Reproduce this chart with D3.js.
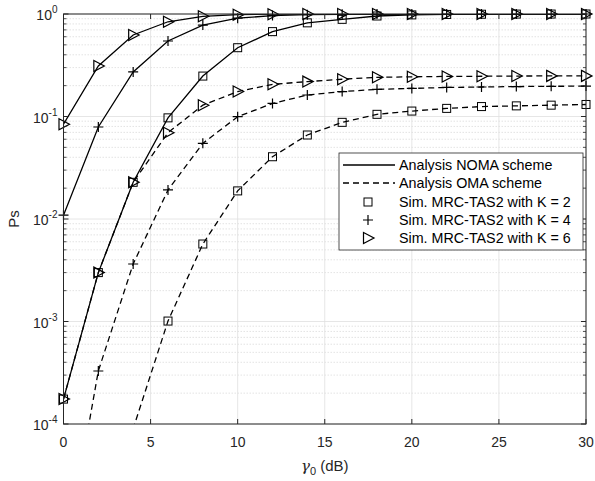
<!DOCTYPE html>
<html>
<head>
<meta charset="utf-8">
<script src="https://cdn.jsdelivr.net/npm/d3@7"></script>
<style>
body{margin:0;background:#fff;}
svg text{font-family:"Liberation Sans",Arial,sans-serif;fill:#262626;}
</style>
</head>
<body>
<div id="chart"></div>
<script>
// SNR (dB) points
var snr = [0,2,4,6,8,10,12,14,16,18,20,22,24,26,28,30];
// NOMA analysis
var nomaK2 = [1.75e-4,3.0e-3,0.0228,0.097,0.248,0.469,0.673,0.82,0.887,0.956,0.98,0.99,0.995,0.998,0.999,1.0];
var nomaK4 = [0.0109,0.079,0.272,0.545,0.78,0.91,0.965,0.985,0.994,0.998,0.999,1,1,1,1,1];
var nomaK6 = [0.084,0.311,0.624,0.84,0.95,0.985,0.995,0.998,1,1,1,1,1,1,1,1];
// OMA analysis
var omaK2 = [2e-7,6e-6,9e-5,1.01e-3,5.7e-3,0.0188,0.0405,0.066,0.0877,0.105,0.113,0.120,0.125,0.127,0.129,0.131];
var omaK4 = [4e-6,3.29e-4,3.64e-3,0.0192,0.0547,0.0995,0.134,0.162,0.175,0.184,0.188,0.192,0.194,0.196,0.197,0.198];
var omaK6 = [1.75e-4,3.0e-3,0.0228,0.0695,0.129,0.175,0.206,0.219,0.231,0.241,0.244,0.246,0.247,0.248,0.249,0.249];

var xTicks = [0,5,10,15,20,25,30];
var yTicks = [1e-4,1e-3,1e-2,1e-1,1];
var yTickExp = ["-4","-3","-2","-1","0"];
var legendLabels = ["Analysis NOMA scheme","Analysis OMA scheme","Sim. MRC-TAS2 with K = 2","Sim. MRC-TAS2 with K = 4","Sim. MRC-TAS2 with K = 6"];

var W = 595, H = 481;
var pL = 63.5, pR = 586, pT = 14, pB = 424;
var axisColor = "#262626";

var x = d3.scaleLinear().domain([0,30]).range([pL,pR]);
var y = d3.scaleLog().domain([1e-4,1]).range([pB,pT]);

var svg = d3.select("#chart").append("svg")
	.attr("width",W).attr("height",H);

svg.append("defs").append("clipPath").attr("id","clip")
	.append("rect").attr("x",pL).attr("y",pT)
	.attr("width",pR-pL).attr("height",pB-pT);

// minor grid (y)
var minor = [];
for(var e=-4;e<0;e++){
	for(var m=2;m<=9;m++){ minor.push(m*Math.pow(10,e)); }
}
svg.selectAll(".minor").data(minor).enter().append("line")
	.attr("x1",pL).attr("x2",pR)
	.attr("y1",function(d){return y(d);}).attr("y2",function(d){return y(d);})
	.attr("stroke","#d0d0d0").attr("stroke-width",0.6)
	.attr("stroke-dasharray","1.5,1.5");

// major grid
svg.selectAll(".gx").data(xTicks).enter().append("line")
	.attr("x1",function(d){return x(d);}).attr("x2",function(d){return x(d);})
	.attr("y1",pT).attr("y2",pB)
	.attr("stroke","#dfdfdf").attr("stroke-width",0.8);
svg.selectAll(".gy").data(yTicks).enter().append("line")
	.attr("x1",pL).attr("x2",pR)
	.attr("y1",function(d){return y(d);}).attr("y2",function(d){return y(d);})
	.attr("stroke","#dfdfdf").attr("stroke-width",0.8);

// curves
var plot = svg.append("g").attr("clip-path","url(#clip)");
var line = d3.line()
	.x(function(d,i){return x(snr[i]);})
	.y(function(d){return y(d);});

var curves = [
	{v:nomaK2, dash:null, mk:"sq"},
	{v:nomaK4, dash:null, mk:"plus"},
	{v:nomaK6, dash:null, mk:"tri"},
	{v:omaK2, dash:"6,4", mk:"sq"},
	{v:omaK4, dash:"6,4", mk:"plus"},
	{v:omaK6, dash:"6,4", mk:"tri"}
];

function marker(g,type,cx,cy){
	if(type=="sq"){
		g.append("rect").attr("x",cx-4).attr("y",cy-4).attr("width",8).attr("height",8)
			.attr("fill","none").attr("stroke","#000").attr("stroke-width",1);
	} else if(type=="plus"){
		g.append("path").attr("d","M"+(cx-5)+","+cy+"H"+(cx+5)+"M"+cx+","+(cy-5)+"V"+(cy+5))
			.attr("stroke","#000").attr("stroke-width",1.2);
	} else {
		g.append("path").attr("d","M"+(cx-4.5)+","+(cy-5.5)+"L"+(cx+6)+","+cy+"L"+(cx-4.5)+","+(cy+5.5)+"Z")
			.attr("fill","none").attr("stroke","#000").attr("stroke-width",1.2);
	}
}

curves.forEach(function(c){
	plot.append("path").datum(c.v)
		.attr("d",line)
		.attr("fill","none").attr("stroke","#000").attr("stroke-width",1.3)
		.attr("stroke-dasharray",c.dash);
});
curves.forEach(function(c){
	for(var i=0;i<c.v.length;i++){
		if(c.v[i]>=1e-4){ marker(svg,c.mk,x(snr[i]),y(c.v[i])); }
	}
});

// axes box
svg.append("rect").attr("x",pL).attr("y",pT)
	.attr("width",pR-pL).attr("height",pB-pT)
	.attr("fill","none").attr("stroke",axisColor).attr("stroke-width",1);

// x ticks
xTicks.forEach(function(t){
	svg.append("line").attr("x1",x(t)).attr("x2",x(t)).attr("y1",pB).attr("y2",pB-5)
		.attr("stroke",axisColor);
	svg.append("line").attr("x1",x(t)).attr("x2",x(t)).attr("y1",pT).attr("y2",pT+5)
		.attr("stroke",axisColor);
	svg.append("text").attr("x",x(t)).attr("y",pB+23)
		.attr("text-anchor","middle").style("font-size","14px").text(t);
});
// y ticks
yTicks.forEach(function(t,i){
	svg.append("line").attr("x1",pL).attr("x2",pL+5).attr("y1",y(t)).attr("y2",y(t))
		.attr("stroke",axisColor);
	svg.append("line").attr("x1",pR).attr("x2",pR-5).attr("y1",y(t)).attr("y2",y(t))
		.attr("stroke",axisColor);
	var tx = svg.append("text").attr("x",pL-6).attr("y",y(t)+6)
		.attr("text-anchor","end").style("font-size","14px");
	tx.append("tspan").text("10");
	tx.append("tspan").attr("dy",-7).style("font-size","10px").text(yTickExp[i]);
});
minor.forEach(function(t){
	svg.append("line").attr("x1",pL).attr("x2",pL+3).attr("y1",y(t)).attr("y2",y(t))
		.attr("stroke",axisColor).attr("stroke-width",0.8);
	svg.append("line").attr("x1",pR).attr("x2",pR-3).attr("y1",y(t)).attr("y2",y(t))
		.attr("stroke",axisColor).attr("stroke-width",0.8);
});

// axis labels
var xl = svg.append("text").attr("x",(pL+pR)/2).attr("y",471)
	.attr("text-anchor","middle").style("font-size","15px");
xl.append("tspan").style("font-family","DejaVu Serif, serif").style("font-style","italic").text("γ");
xl.append("tspan").attr("dy",4).style("font-size","11px").text("0");
xl.append("tspan").attr("dy",-4).text(" (dB)");

svg.append("text").attr("transform","translate(19,"+((pT+pB)/2)+") rotate(-90)")
	.attr("text-anchor","middle").style("font-size","15px").text("Ps");

// legend
var lg = svg.append("g");
lg.append("rect").attr("x",339).attr("y",153).attr("width",244).attr("height",97)
	.attr("fill","#fff").attr("stroke",axisColor).attr("stroke-width",0.8);
var rowY = [165,183,202,220,238];
var mk = [null,null,"sq","plus","tri"];
legendLabels.forEach(function(l,i){
	if(i<2){
		lg.append("line").attr("x1",343).attr("x2",395).attr("y1",rowY[i]).attr("y2",rowY[i])
			.attr("stroke","#000").attr("stroke-width",1.3)
			.attr("stroke-dasharray",i==1?"6,4":null);
	} else {
		marker(lg,mk[i],368,rowY[i]);
	}
	lg.append("text").attr("x",399).attr("y",rowY[i]+5)
		.style("font-size","14.3px").style("fill","#000").text(l);
});
</script>
</body>
</html>
